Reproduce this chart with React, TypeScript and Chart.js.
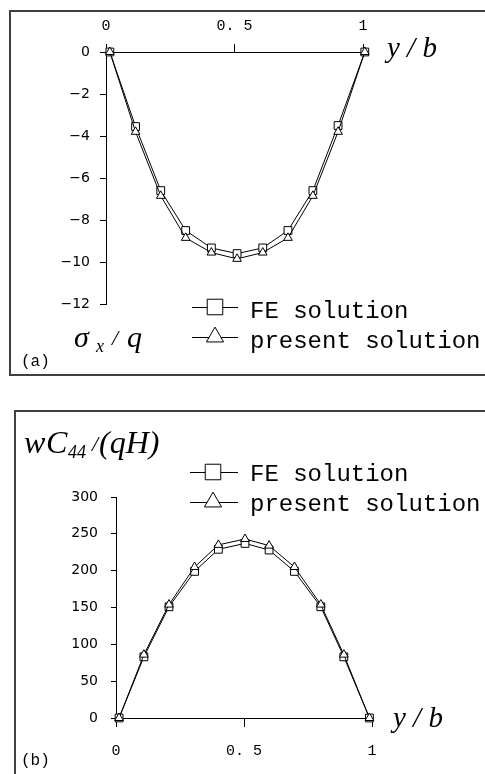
import { useEffect, useRef } from "react";
import { Chart, registerables } from "chart.js";

Chart.register(...registerables);

// ---------- data (panel a: sigma_x / q) ----------
const xA = [0.015, 0.115, 0.213, 0.31, 0.41, 0.51, 0.61, 0.708, 0.805, 0.903, 1.007];
const feA = [0, -3.55, -6.6, -8.5, -9.33, -9.6, -9.33, -8.5, -6.6, -3.5, 0];
const presentA = [0, -3.8, -6.85, -8.85, -9.55, -9.85, -9.55, -8.85, -6.85, -3.8, 0];
const xTicksA = [0, 0.5, 1];
const xTickLabelsA = ["0", "0. 5", "1"];
const yTicksA = [0, -2, -4, -6, -8, -10, -12];
const yTickLabelsA = ["0", "\u22122", "\u22124", "\u22126", "\u22128", "\u221210", "\u221212"];

// ---------- data (panel b: wC44 / (qH)) ----------
const xB = [0.012, 0.109, 0.207, 0.307, 0.4, 0.504, 0.598, 0.697, 0.8, 0.89, 0.99];
const feB = [0, 83, 151, 199, 229, 237, 228, 199, 151, 83, 0];
const presentB = [0, 86, 154, 205, 235, 243, 234, 205, 154, 86, 0];
const xTicksB = [0, 0.5, 1];
const xTickLabelsB = ["0", "0. 5", "1"];
const yTicksB = [0, 50, 100, 150, 200, 250, 300];
const yTickLabelsB = ["0", "50", "100", "150", "200", "250", "300"];

const seriesNames = ["FE solution", "present solution"];

const SERIF_I = "italic 30px 'Liberation Serif', 'DejaVu Serif', serif";
const MONO = "'Liberation Mono', 'DejaVu Sans Mono', monospace";

function pts(xs: number[], ys: number[]) {
  return xs.map((x, i) => ({ x, y: ys[i] }));
}

function marker(ctx: CanvasRenderingContext2D, style: string, x: number, y: number, r: number) {
  ctx.save();
  ctx.beginPath();
  if (style === "rect") {
    const s = Math.SQRT1_2 * r;
    ctx.rect(x - s, y - s, 2 * s, 2 * s);
  } else {
    const a = (2 * Math.PI) / 3;
    ctx.moveTo(x, y - r);
    ctx.lineTo(x + Math.sin(a) * r, y - Math.cos(a) * r);
    ctx.lineTo(x + Math.sin(2 * a) * r, y - Math.cos(2 * a) * r);
    ctx.closePath();
  }
  ctx.fillStyle = "#fff";
  ctx.fill();
  ctx.lineWidth = 1;
  ctx.strokeStyle = "#000";
  ctx.stroke();
  ctx.restore();
}

type TextPiece = { text: string; x: number; y: number; font: string };
type Overlay = {
  legend: { x1: number; x2: number; cx: number; rows: number[]; textX: number; textDy: number; r: number };
  texts: TextPiece[];
};

function overlayPlugin(ov: Overlay) {
  return {
    id: "overlay",
    afterDraw(chart: any) {
      const ctx: CanvasRenderingContext2D = chart.ctx;
      ctx.save();
      const L = ov.legend;
      seriesNames.forEach((name, i) => {
        const y = L.rows[i];
        ctx.beginPath();
        ctx.moveTo(L.x1, y + 0.5);
        ctx.lineTo(L.x2, y + 0.5);
        ctx.lineWidth = 1;
        ctx.strokeStyle = "#000";
        ctx.stroke();
        marker(ctx, i === 0 ? "rect" : "triangle", L.cx, y, i === 0 ? L.r : L.r * 0.9);
        ctx.fillStyle = "#000";
        ctx.font = `24px ${MONO}`;
        ctx.textAlign = "left";
        ctx.textBaseline = "alphabetic";
        ctx.fillText(name, L.textX, y + L.textDy);
      });
      ov.texts.forEach((t) => {
        ctx.font = t.font;
        ctx.fillStyle = "#000";
        ctx.textAlign = "left";
        ctx.textBaseline = "alphabetic";
        ctx.fillText(t.text, t.x, t.y);
      });
      ctx.restore();
    },
  };
}

function makeConfig(opts: {
  xs: number[];
  fe: number[];
  present: number[];
  xTicks: number[];
  xLabels: string[];
  yTicks: number[];
  yLabels: string[];
  yMin: number;
  yMax: number;
  xPos: "top" | "bottom";
  padding: any;
  yWidth: number;
  xHeight: number;
  xTickLen: number;
  xTickPad: number;
  yTickLen: number;
  yTickPad: number;
  yFont: number;
  overlay: Overlay;
}) {
  const ds = (name: string, ys: number[], style: string, r: number) => ({
    label: name,
    data: pts(opts.xs, ys),
    borderColor: "#000",
    borderWidth: 1,
    pointStyle: style,
    pointRadius: r,
    pointBackgroundColor: "#fff",
    pointBorderColor: "#000",
    pointBorderWidth: 1,
    tension: 0,
    clip: false as any,
  });
  return {
    type: "line" as const,
    data: {
      datasets: [ds(seriesNames[1], opts.present, "triangle", 5), ds(seriesNames[0], opts.fe, "rect", 5.5)],
    },
    options: {
      animation: false as const,
      responsive: false,
      events: [],
      layout: { padding: opts.padding },
      plugins: { legend: { display: false }, tooltip: { enabled: false } },
      scales: {
        x: {
          type: "linear" as const,
          position: opts.xPos,
          min: 0,
          max: 1,
          afterBuildTicks: (s: any) => {
            s.ticks = opts.xTicks.map((v) => ({ value: v }));
          },
          afterFit: (s: any) => {
            s.height = opts.xHeight;
          },
          ticks: {
            color: "#000",
            padding: opts.xTickPad,
            maxRotation: 0,
            font: { family: MONO, size: 15 },
            callback: (v: any) => {
              const i = opts.xTicks.indexOf(Number(v));
              return i >= 0 ? opts.xLabels[i] : "";
            },
          },
          grid: { drawOnChartArea: false, drawTicks: true, tickLength: opts.xTickLen, color: "#000", lineWidth: 1 },
          border: { display: true, color: "#000", width: 1 },
        },
        y: {
          type: "linear" as const,
          position: "left" as const,
          min: opts.yMin,
          max: opts.yMax,
          afterBuildTicks: (s: any) => {
            s.ticks = opts.yTicks.map((v) => ({ value: v }));
          },
          afterFit: (s: any) => {
            s.width = opts.yWidth;
          },
          ticks: {
            color: "#000",
            padding: opts.yTickPad,
            font: { family: "'DejaVu Sans', sans-serif", size: opts.yFont },
            callback: (v: any) => {
              const i = opts.yTicks.indexOf(Number(v));
              return i >= 0 ? opts.yLabels[i] : "";
            },
          },
          grid: { drawOnChartArea: false, drawTicks: true, tickLength: opts.yTickLen, color: "#000", lineWidth: 1 },
          border: { display: true, color: "#000", width: 1 },
        },
      },
    },
    plugins: [overlayPlugin(opts.overlay)],
  };
}

function ChartCanvas({ config, left, top, width, height }: any) {
  const ref = useRef<HTMLCanvasElement | null>(null);
  useEffect(() => {
    if (!ref.current) return;
    const chart = new Chart(ref.current, config);
    return () => chart.destroy();
  }, []);
  return (
    <canvas
      ref={ref}
      width={width}
      height={height}
      style={{ position: "absolute", left, top, width, height }}
    />
  );
}

export default function App() {
  const cfgA = makeConfig({
    xs: xA,
    fe: feA,
    present: presentA,
    xTicks: xTicksA,
    xLabels: xTickLabelsA,
    yTicks: yTicksA,
    yLabels: yTickLabelsA,
    yMin: -12,
    yMax: 0,
    xPos: "top",
    padding: { left: 0, top: 0, right: 122, bottom: 86 },
    yWidth: 106,
    xHeight: 52,
    xTickLen: 8,
    xTickPad: 9,
    yTickLen: 6,
    yTickPad: 10,
    yFont: 14,
    overlay: {
      legend: { x1: 192, x2: 238, cx: 215, rows: [307, 337], textX: 250, textDy: 11, r: 11 },
      texts: [
        { text: "y / b", x: 387, y: 57, font: "italic 29px 'Liberation Serif', serif" },
        { text: "\u03c3", x: 74, y: 347, font: SERIF_I },
        { text: "x", x: 96, y: 352, font: "italic 18px 'Liberation Serif', serif" },
        { text: "/", x: 112, y: 345, font: "italic 22px 'Liberation Serif', serif" },
        { text: "q", x: 127, y: 347, font: SERIF_I },
        { text: "(a)", x: 21, y: 366, font: `16px ${MONO}` },
      ],
    },
  });
  const cfgB = makeConfig({
    xs: xB,
    fe: feB,
    present: presentB,
    xTicks: xTicksB,
    xLabels: xTickLabelsB,
    yTicks: yTicksB,
    yLabels: yTickLabelsB,
    yMin: 0,
    yMax: 300,
    xPos: "bottom",
    padding: { left: 0, top: 97, right: 113, bottom: 0 },
    yWidth: 116,
    xHeight: 56,
    xTickLen: 9,
    xTickPad: 15,
    yTickLen: 5,
    yTickPad: 13,
    yFont: 14,
    overlay: {
      legend: { x1: 190, x2: 238, cx: 213, rows: [72, 102], textX: 250, textDy: 9, r: 11 },
      texts: [
        { text: "w", x: 24, y: 53, font: "italic 32px 'Liberation Serif', serif" },
        { text: "C", x: 46, y: 53, font: "italic 32px 'Liberation Serif', serif" },
        { text: "44", x: 68, y: 58, font: "italic 18px 'Liberation Serif', serif" },
        { text: "/", x: 92, y: 51, font: "italic 22px 'Liberation Serif', serif" },
        { text: "(qH)", x: 99, y: 53, font: "italic 32px 'Liberation Serif', serif" },
        { text: "y / b", x: 393, y: 327, font: "italic 29px 'Liberation Serif', serif" },
        { text: "(b)", x: 21, y: 365, font: `16px ${MONO}` },
      ],
    },
  });

  return (
    <div style={{ position: "fixed", left: 0, top: 0, width: 485, height: 774, overflow: "hidden", background: "#fff" }}>
      <div
        style={{
          position: "absolute",
          left: 9,
          top: 10,
          width: 500,
          height: 366,
          border: "2px solid #404040",
          boxSizing: "border-box",
        }}
      />
      <div
        style={{
          position: "absolute",
          left: 14,
          top: 410,
          width: 500,
          height: 400,
          border: "2px solid #404040",
          boxSizing: "border-box",
        }}
      />
      <ChartCanvas config={cfgA} left={0} top={0} width={485} height={390} />
      <ChartCanvas config={cfgB} left={0} top={400} width={485} height={374} />
    </div>
  );
}
